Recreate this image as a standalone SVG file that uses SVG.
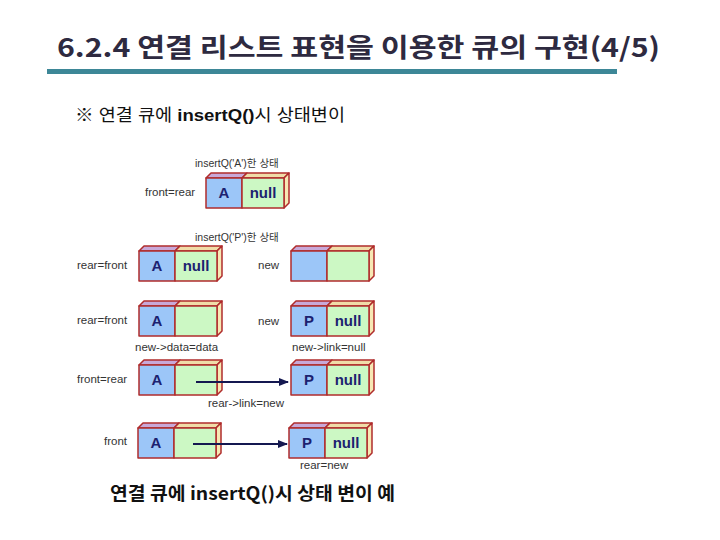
<svg xmlns="http://www.w3.org/2000/svg" xmlns:xlink="http://www.w3.org/1999/xlink" width="720" height="540" viewBox="0 0 720 540">
<style>
.title{font-family:"Noto Sans CJK KR","Noto Sans",sans-serif;font-weight:bold;font-size:26px;fill:#2e2a40}
.sub{font-family:"Liberation Sans","Noto Sans CJK KR",sans-serif;font-size:17px;fill:#111}
.cap{font-family:"Noto Sans CJK KR","Noto Sans",sans-serif;font-weight:bold;font-size:18px;fill:#111}
.lbl{font-family:"Liberation Sans","Noto Sans CJK KR",sans-serif;font-size:11.5px;fill:#333}
.hd{font-family:"Liberation Sans","Noto Sans CJK KR",sans-serif;font-size:10.5px;fill:#333}
.val{font-family:"Liberation Sans",Arial,sans-serif;font-weight:bold;font-size:15px;fill:#1c2270;text-anchor:middle}
.b{stroke:#b02c2c;stroke-width:1.5;stroke-linejoin:round}
.conn{stroke:#141850;stroke-width:2;fill:none}
</style>
<defs>
<g id="box">
<polygon class="b" points="0,0 5,-5 41,-5 36,0" fill="#c8a8d8"/>
<polygon class="b" points="36,0 41,-5 83,-5 78,0" fill="#f0dca8"/>
<polygon class="b" points="78,0 83,-5 83,25 78,30" fill="#f7e8b4"/>
<rect class="b" x="0" y="0" width="36" height="30" fill="#9cc6f8"/>
<rect class="b" x="36" y="0" width="42" height="30" fill="#ccf8c4"/>
</g>
<marker id="ah" viewBox="0 0 10 10" refX="9" refY="5" markerWidth="5" markerHeight="5" orient="auto">
<path d="M0,1 L10,5 L0,9 z" fill="#141850"/>
</marker>
</defs>
<rect width="720" height="540" fill="#fff"/>
<text class="title" x="57" y="57" textLength="603" lengthAdjust="spacingAndGlyphs">6.2.4 연결 리스트 표현을 이용한 큐의 구현(4/5)</text>
<rect x="47" y="69" width="570" height="5" fill="#3d8797"/>
<text class="sub" x="75" y="121" textLength="270" lengthAdjust="spacingAndGlyphs">※ 연결 큐에 <tspan font-weight="bold">insertQ()</tspan>시 상태변이</text>

<g id="n1" transform="translate(206,178)">
<use xlink:href="#box"/>
<text class="val" x="18" y="20">A</text>
<text class="val" x="57" y="20">null</text>
</g>
<text class="hd" x="195" y="167">insertQ('A')한 상태</text>
<text class="lbl" x="145" y="196">front=rear</text>

<text class="hd" x="195" y="241">insertQ('P')한 상태</text>
<g id="n2a" transform="translate(139,251)">
<use xlink:href="#box"/>
<text class="val" x="18" y="20">A</text>
<text class="val" x="57" y="20">null</text>
</g>
<g id="n2b" transform="translate(291,251)">
<use xlink:href="#box"/>
</g>
<text class="lbl" x="77" y="269">rear=front</text>
<text class="lbl" x="258" y="269">new</text>

<g id="n3a" transform="translate(139,306)">
<use xlink:href="#box"/>
<text class="val" x="18" y="20">A</text>
</g>
<g id="n3b" transform="translate(291,306)">
<use xlink:href="#box"/>
<text class="val" x="18" y="20">P</text>
<text class="val" x="57" y="20">null</text>
</g>
<text class="lbl" x="77" y="324">rear=front</text>
<text class="lbl" x="258" y="325">new</text>
<text class="lbl" x="135" y="351">new-&gt;data=data</text>
<text class="lbl" x="292" y="351">new-&gt;link=null</text>

<g id="n4a" transform="translate(139,365)">
<use xlink:href="#box"/>
<text class="val" x="18" y="20">A</text>
</g>
<g id="n4b" transform="translate(291,365)">
<use xlink:href="#box"/>
<text class="val" x="18" y="20">P</text>
<text class="val" x="57" y="20">null</text>
</g>
<text class="lbl" x="77" y="383">front=rear</text>
<text class="lbl" x="208" y="407">rear-&gt;link=new</text>

<g id="n5a" transform="translate(138,428)">
<use xlink:href="#box"/>
<text class="val" x="18" y="20">A</text>
</g>
<g id="n5b" transform="translate(289,428)">
<use xlink:href="#box"/>
<text class="val" x="18" y="20">P</text>
<text class="val" x="57" y="20">null</text>
</g>
<text class="lbl" x="104" y="445">front</text>
<text class="lbl" x="300" y="469">rear=new</text>

<g id="connectors">
<line class="conn" x1="196" y1="382" x2="288" y2="382" marker-end="url(#ah)"/>
<line class="conn" x1="193" y1="444" x2="287" y2="444" marker-end="url(#ah)"/>
</g>

<text class="cap" x="110" y="500" textLength="285" lengthAdjust="spacingAndGlyphs">연결 큐에 insertQ()시 상태 변이 예</text>
</svg>
